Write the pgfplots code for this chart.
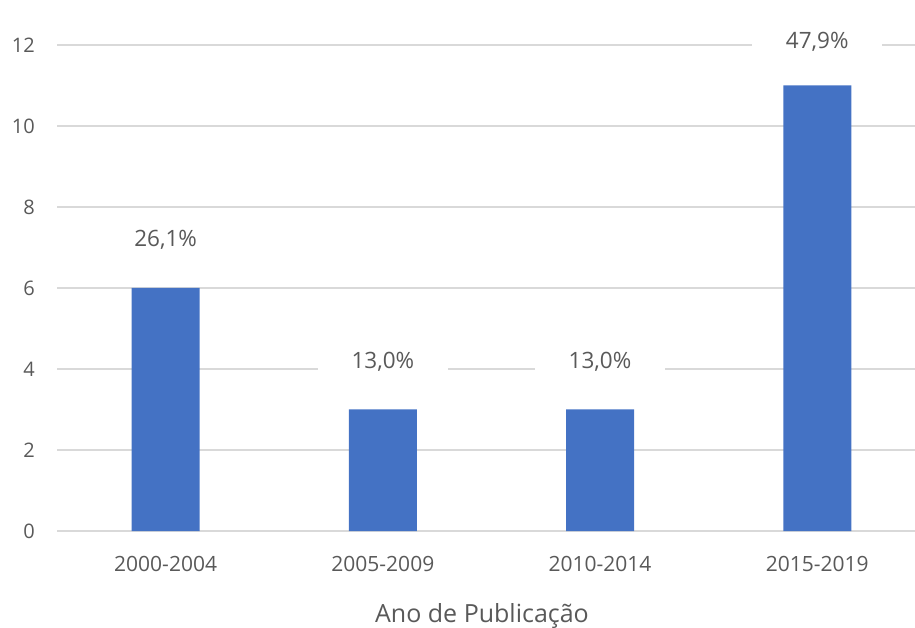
\documentclass[border=0pt]{standalone}
\usepackage{pgfplots}
\pgfplotsset{compat=1.18}
\usepackage{fontspec}
\setmainfont{Open Sans}
\definecolor{barblue}{HTML}{4472C4}
\definecolor{txtgray}{HTML}{595959}
\definecolor{gridgray}{HTML}{D9D9D9}
\begin{document}
\begin{tikzpicture}
\begin{axis}[
  at={(57bp,97bp)}, anchor=south west,
  scale only axis, width=858bp, height=486bp,
  xmin=-0.5, xmax=3.45, ymin=0, ymax=12,
  ytick={0,2,...,12},
  xtick={0,1,2,3},
  xticklabels={2000-2004,2005-2009,2010-2014,2015-2019},
  axis line style={draw=none},
  major tick length=0pt,
  ymajorgrids, grid style={gridgray, line width=1.3bp},
  /pgf/number format/assume math mode=true,
  yticklabel style={font=\fontsize{20bp}{24bp}\selectfont, text=txtgray, anchor=east, inner sep=0pt, xshift=-22bp},
  xticklabel style={font=\fontsize{21bp}{25bp}\selectfont, text=txtgray, anchor=north, inner sep=0pt, yshift=-25bp},
  xlabel={Ano de Publicação},
  xlabel style={font=\fontsize{25bp}{30bp}\selectfont, text=txtgray, anchor=base, at={(axis description cs:0.5,0)}, yshift=-91bp, xshift=-4bp, inner sep=0pt},
  clip=false,
]
\addplot[ybar, bar width=68bp, fill=barblue, draw=none,
  point meta=explicit symbolic,
  visualization depends on={y \as \rawy},
  nodes near coords,
  every node near coord/.append style={font=\fontsize{22.5bp}{27bp}\selectfont, text=txtgray, fill=white, anchor=center, yshift={ifthenelse(\rawy>10,43.5,48)*1bp}, minimum width=130bp, minimum height=36bp, inner sep=0pt},
] coordinates {
  (0,6) [26,1\%]
  (1,3) [13,0\%]
  (2,3) [13,0\%]
  (3,11) [47,9\%]
};
\end{axis}
\pgfresetboundingbox
\path[use as bounding box] (0,0) rectangle (915bp,628bp);
\end{tikzpicture}
\end{document}
